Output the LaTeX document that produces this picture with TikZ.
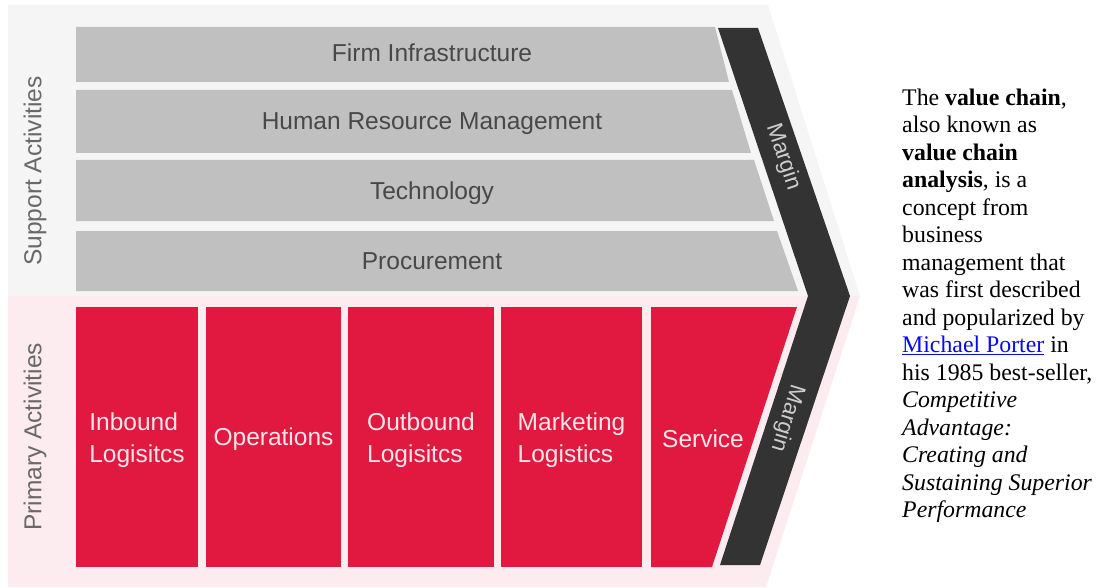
\documentclass[tikz,border=0pt]{standalone}
\usepackage{fontspec}
\setmainfont{Liberation Serif}
\setsansfont{Liberation Sans}
\usepackage{tikz}
\usepackage{xcolor}
\usetikzlibrary{calc}
\definecolor{barGray}{RGB}{192,192,192}
\definecolor{supportBg}{RGB}{245,245,245}
\definecolor{primaryBg}{RGB}{252,236,239}
\definecolor{valueRed}{RGB}{225,24,64}
\definecolor{marginDark}{RGB}{51,51,51}
\definecolor{labelGray}{RGB}{72,72,72}
\definecolor{sideGray}{RGB}{105,105,105}
\definecolor{marginText}{RGB}{205,205,205}
\definecolor{redText}{RGB}{253,230,234}
\definecolor{linkBlue}{RGB}{10,10,235}

\begin{document}
\begin{tikzpicture}[line cap=round,line join=round,x=1pt,y=-1pt,
    bartext/.style={font=\sffamily\fontsize{24.5}{26}\selectfont,text=labelGray,inner sep=0pt},
    boxtext/.style={font=\sffamily\fontsize{24.5}{32}\selectfont,text=redText,align=left},
    sidetext/.style={font=\sffamily\fontsize{24.5}{26}\selectfont,text=sideGray,rotate=90},
    margintext/.style={font=\sffamily\fontsize{22.5}{24}\selectfont,text=marginText,inner sep=0pt}]
    \useasboundingbox (0,0) rectangle (1099,588);
    \fill [white] (0,0) rectangle (1099,588);
    \fill [supportBg] (8,5) -- (768,5) -- (860,296) -- (8,296) -- cycle;
    \fill [primaryBg] (8,296) -- (860,296) -- (766,587) -- (8,587) -- cycle;
    \fill [barGray] (76,27) -- (715,27) -- (729,82) -- (76,82) -- cycle;
    \fill [barGray] (76,90) -- (732,90) -- (751,153) -- (76,153) -- cycle;
    \fill [barGray] (76,160) -- (754,160) -- (774,221) -- (76,221) -- cycle;
    \fill [barGray] (76,231) -- (777,231) -- (798,291) -- (76,291) -- cycle;
    \fill [marginDark] (718,28) -- (758,28) -- (850,296) -- (760,565) -- (720,565) -- (808,296) -- cycle;
    \fill [valueRed] (76,307) rectangle (198,567);
    \fill [valueRed] (206,307) rectangle (341,567);
    \fill [valueRed] (348,307) rectangle (494,567);
    \fill [valueRed] (501,307) rectangle (642,567);
    \fill [valueRed] (651,307) -- (797,307) -- (712,567) -- (651,567) -- cycle;
    \node [bartext,anchor=base] (infra) at (432,62) {Firm Infrastructure};
    \node [bartext,anchor=base] (hrm) at (432,130) {Human Resource Management};
    \node [bartext,anchor=base] (tech) at (432,199) {Technology};
    \node [bartext,anchor=base] (proc) at (432,269) {Procurement};
    \node [boxtext] (inbound) at (137,440) {Inbound\\Logisitcs};
    \node [boxtext] (ops) at (273.5,439) {Operations};
    \node [boxtext] (outbound) at (421,440) {Outbound\\Logisitcs};
    \node [boxtext] (marketing) at (571.5,440) {Marketing\\Logistics};
    \node [boxtext] (service) at (703,439) {Service};
    \node [sidetext] (supportLbl) at (35,171) {Support Activities};
    \node [sidetext] (primaryLbl) at (35,437) {Primary Activities};
    \node [margintext,rotate=-71.5] (marginTop) at (783,157) {Margin};
    \node [margintext,rotate=-107] (marginBottom) at (787,418) {Margin};
    \node [anchor=base west,align=left,inner sep=0pt,font=\fontsize{23.8}{27.5}\selectfont] (blurb) at (902,517.5)
        {The \textbf{value chain},\\
        also known as\\
        \textbf{value chain}\\
        \textbf{analysis}, is a\\
        concept from\\
        business\\
        management that\\
        was first described\\
        and popularized by\\
        {\color{linkBlue}\underline{Michael Porter}} in\\
        his 1985 best-seller,\\
        \textit{Competitive}\\
        \textit{Advantage:}\\
        \textit{Creating and}\\
        \textit{Sustaining Superior}\\
        \textit{Performance}};
\end{tikzpicture}
\end{document}
